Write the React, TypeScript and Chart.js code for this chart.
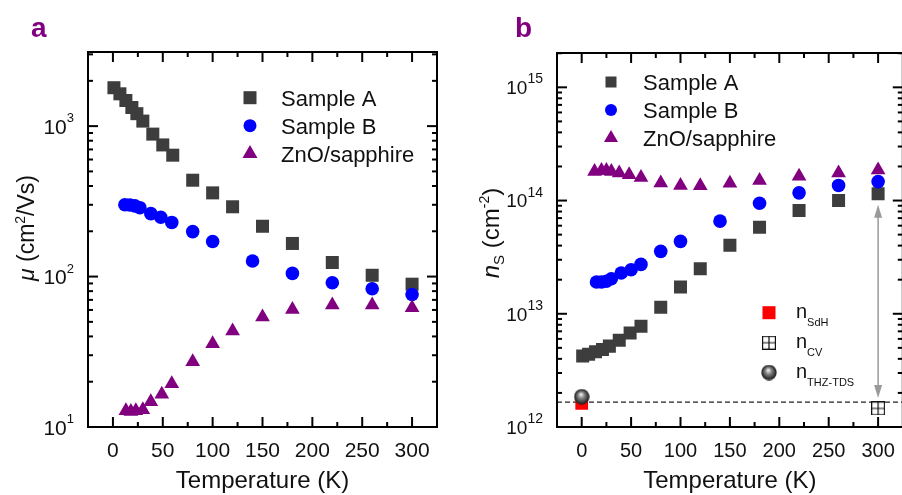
import React, { useEffect, useRef } from "react";
import { Chart, registerables } from "chart.js";

Chart.register(...registerables);

const FONT = "'Liberation Sans', Arial, Helvetica, sans-serif";
const PURPLE = "#800080";
const GREY = "#3d3d3d";
const BLUE = "#0000ff";
const RED = "#ff0000";

// ---------- Panel a : mobility (cm^2/Vs) ----------
const tempA_a = [1, 7, 13, 19, 24, 30, 40, 50, 60, 80, 100, 120, 150, 180, 220, 260, 300];
const muSampleA = [1800, 1640, 1480, 1330, 1210, 1080, 885, 750, 641, 437, 360, 291, 216, 166, 124, 102, 89];
const tempB_a = [12, 17, 22, 27, 38, 48, 59, 80, 100, 140, 180, 220, 260, 300];
const muSampleB = [300, 299, 295, 287, 262, 248, 229, 199, 171, 127, 105, 91, 83, 76];
const tempZnO_a = [13, 18, 23, 30, 38, 49, 59, 80, 100, 120, 150, 180, 220, 260, 300];
const muZnO = [12.8, 12.7, 12.8, 13.0, 14.7, 16.5, 19.4, 27.2, 35.8, 43.5, 53.8, 60.5, 64.7, 64.7, 62];

// ---------- Panel b : sheet density n_S (cm^-2) ----------
const tempA_b = [1, 7, 14, 21, 28, 38, 49, 60, 80, 100, 120, 150, 180, 220, 260, 300];
const nsSampleA = [4.23e12, 4.4e12, 4.61e12, 4.84e12, 5.18e12, 5.85e12, 6.78e12, 7.76e12, 1.14e13, 1.72e13, 2.5e13, 4.02e13, 5.82e13, 8.17e13, 1.0e14, 1.15e14];
const tempB_b = [15, 20, 25, 30, 40, 50, 60, 80, 100, 140, 180, 220, 260, 300];
const nsSampleB = [1.91e13, 1.91e13, 1.94e13, 2.04e13, 2.29e13, 2.45e13, 2.73e13, 3.56e13, 4.36e13, 6.58e13, 9.47e13, 1.17e14, 1.36e14, 1.47e14];
const tempZnO_b = [13, 20, 25, 30, 38, 48, 60, 80, 100, 120, 150, 180, 220, 260, 300];
const nsZnO = [1.81e14, 1.84e14, 1.84e14, 1.81e14, 1.75e14, 1.69e14, 1.6e14, 1.43e14, 1.36e14, 1.35e14, 1.42e14, 1.5e14, 1.64e14, 1.75e14, 1.86e14];
const tempSdH = [0];
const nsSdH = [1.62e12];
const tempCV = [300];
const nsCV = [1.46e12];
const tempTHz = [0];
const nsTHz = [1.85e12];
const refLineNs = 1.66e12;
const arrowT = 300;
const arrowTop = 9.2e13;
const arrowBottom = 1.8e12;

// ---------- Axes ----------
const xMajorTicks = [0, 50, 100, 150, 200, 250, 300];
const xMinorTicks = [25, 75, 125, 175, 225, 275];
const yDecadesA = [1, 2, 3];
const yDecadesB = [12, 13, 14, 15];
const legendLabels = ["Sample A", "Sample B", "ZnO/sapphire"];
const insetLabels = [
  ["n", "SdH"],
  ["n", "CV"],
  ["n", "THZ-TDS"],
];
const xTitle = "Temperature (K)";

type Part = { t: string; f: string; dy?: number };

function drawRich(ctx: CanvasRenderingContext2D, parts: Part[], x: number, y: number, align: "left" | "center" | "right") {
  let total = 0;
  const w = parts.map((p) => {
    ctx.font = p.f;
    const m = ctx.measureText(p.t).width;
    total += m;
    return m;
  });
  let cx = align === "left" ? x : align === "center" ? x - total / 2 : x - total;
  ctx.textAlign = "left";
  ctx.textBaseline = "alphabetic";
  parts.forEach((p, i) => {
    ctx.font = p.f;
    ctx.fillText(p.t, cx, y + (p.dy || 0));
    cx += w[i];
  });
}

function drawMarker(ctx: CanvasRenderingContext2D, kind: string, x: number, y: number, size: number, color: string) {
  ctx.fillStyle = color;
  if (kind === "rect") ctx.fillRect(x - size / 2, y - size / 2, size, size);
  else if (kind === "circle") {
    ctx.beginPath();
    ctx.arc(x, y, size / 2, 0, Math.PI * 2);
    ctx.fill();
  } else if (kind === "triangle") {
    const h = (size * Math.sqrt(3)) / 2;
    ctx.beginPath();
    ctx.moveTo(x, y - (h * 2) / 3);
    ctx.lineTo(x + size / 2, y + h / 3);
    ctx.lineTo(x - size / 2, y + h / 3);
    ctx.closePath();
    ctx.fill();
  }
}

function makeSphere(d: number) {
  const c = document.createElement("canvas");
  c.width = d;
  c.height = d;
  const g = c.getContext("2d")!;
  const r = d / 2;
  const grad = g.createRadialGradient(r * 0.9, r * 0.7, r * 0.05, r, r, r);
  grad.addColorStop(0, "#eeeeee");
  grad.addColorStop(0.35, "#8a8a8a");
  grad.addColorStop(0.8, "#333333");
  grad.addColorStop(1, "#1a1a1a");
  g.fillStyle = grad;
  g.beginPath();
  g.arc(r, r, r - 0.3, 0, Math.PI * 2);
  g.fill();
  return c;
}

function makeCV(d: number) {
  const c = document.createElement("canvas");
  c.width = d;
  c.height = d;
  const g = c.getContext("2d")!;
  g.fillStyle = "#fff";
  g.fillRect(0, 0, d, d);
  g.strokeStyle = "#111";
  g.lineWidth = 1.2;
  g.strokeRect(0.6, 0.6, d - 1.2, d - 1.2);
  g.beginPath();
  g.moveTo(d / 2, 0);
  g.lineTo(d / 2, d);
  g.moveTo(0, d / 2);
  g.lineTo(d, d / 2);
  g.stroke();
  return c;
}

interface PanelCfg {
  letter: string;
  letterX: number;
  yDecades: number[];
  tickFont: number;
  labelFont: number;
  supFont: number;
  yTitle: Part[];
  yTitleX: number;
  yTitleY: number;
  legendX: number;
  legendTextX: number;
  legendRows: number[];
  legendSizes: number[];
  before?: (chart: any) => void;
  after?: (chart: any) => void;
}

function makePlugin(cfg: PanelCfg) {
  return {
    id: "frame" + cfg.letter,
    beforeDatasetsDraw(chart: any) {
      const ctx: CanvasRenderingContext2D = chart.ctx;
      const a = chart.chartArea;
      const xs = chart.scales.x;
      const ys = chart.scales.y;
      ctx.save();
      if (cfg.before) cfg.before(chart);
      ctx.strokeStyle = "#000";
      ctx.lineWidth = 2;
      ctx.setLineDash([]);
      const seg = (x1: number, y1: number, x2: number, y2: number) => {
        ctx.beginPath();
        ctx.moveTo(x1, y1);
        ctx.lineTo(x2, y2);
        ctx.stroke();
      };
      // x ticks
      xMajorTicks.forEach((v) => {
        const px = xs.getPixelForValue(v);
        seg(px, a.bottom, px, a.bottom - 10);
        seg(px, a.top, px, a.top + 10);
      });
      xMinorTicks.forEach((v) => {
        const px = xs.getPixelForValue(v);
        seg(px, a.bottom, px, a.bottom - 5);
        seg(px, a.top, px, a.top + 5);
      });
      // y ticks (log)
      const e0 = Math.floor(Math.log10(ys.min));
      const e1 = Math.ceil(Math.log10(ys.max));
      for (let e = e0; e <= e1; e++) {
        for (let m = 1; m <= 9; m++) {
          const v = m * Math.pow(10, e);
          if (v < ys.min * 0.999 || v > ys.max * 1.001) continue;
          const py = ys.getPixelForValue(v);
          const len = m === 1 ? 10 : 5;
          seg(a.left, py, a.left + len, py);
          seg(a.right, py, a.right - len, py);
        }
      }
      ctx.strokeRect(a.left, a.top, a.right - a.left, a.bottom - a.top);
      // tick labels
      ctx.fillStyle = "#111";
      ctx.font = `${cfg.tickFont}px ${FONT}`;
      ctx.textAlign = "center";
      ctx.textBaseline = "alphabetic";
      xMajorTicks.forEach((v) => {
        ctx.fillText(String(v), xs.getPixelForValue(v), 457);
      });
      cfg.yDecades.forEach((e) => {
        const py = ys.getPixelForValue(Math.pow(10, e));
        drawRich(
          ctx,
          [
            { t: "10", f: `${cfg.labelFont}px ${FONT}`, dy: cfg.labelFont * 0.36 },
            { t: String(e), f: `${cfg.supFont}px ${FONT}`, dy: -4 },
          ],
          a.left - 14,
          py,
          "right"
        );
      });
      // x title
      ctx.font = `24px ${FONT}`;
      ctx.textAlign = "center";
      ctx.fillText(xTitle, (a.left + a.right) / 2, 488);
      // y title
      ctx.save();
      ctx.translate(cfg.yTitleX, cfg.yTitleY);
      ctx.rotate(-Math.PI / 2);
      drawRich(ctx, cfg.yTitle, 0, 0, "center");
      ctx.restore();
      // panel letter
      ctx.fillStyle = PURPLE;
      ctx.font = `bold 28px ${FONT}`;
      ctx.textAlign = "left";
      ctx.fillText(cfg.letter, cfg.letterX, 37);
      ctx.restore();
    },
    afterDatasetsDraw(chart: any) {
      const ctx: CanvasRenderingContext2D = chart.ctx;
      ctx.save();
      const kinds = ["rect", "circle", "triangle"];
      const colors = [GREY, BLUE, PURPLE];
      legendLabels.forEach((lab, i) => {
        const y = cfg.legendRows[i];
        drawMarker(ctx, kinds[i], cfg.legendX, y, cfg.legendSizes[i], colors[i]);
        ctx.fillStyle = "#111";
        ctx.font = `22px ${FONT}`;
        ctx.textAlign = "left";
        ctx.textBaseline = "alphabetic";
        ctx.fillText(lab, cfg.legendTextX, y + 7.8);
      });
      if (cfg.after) cfg.after(chart);
      ctx.restore();
    },
  };
}

function pts(xs: number[], ys: number[]) {
  return xs.map((x, i) => ({ x, y: ys[i] }));
}

function baseOptions(padding: any, yMin: number, yMax: number) {
  return {
    responsive: false,
    maintainAspectRatio: false,
    animation: false as const,
    devicePixelRatio: 1,
    events: [] as any[],
    layout: { padding },
    plugins: { legend: { display: false }, tooltip: { enabled: false } },
    scales: {
      x: { type: "linear" as const, display: false, min: -25, max: 325 },
      y: { type: "logarithmic" as const, display: false, min: yMin, max: yMax },
    },
  };
}

export default function App() {
  const refA = useRef<HTMLCanvasElement>(null);
  const refB = useRef<HTMLCanvasElement>(null);

  useEffect(() => {
    const sphereImg = makeSphere(16);
    const cvImg = makeCV(14);

    const pluginA = makePlugin({
      letter: "a",
      letterX: 31,
      yDecades: yDecadesA,
      tickFont: 21,
      labelFont: 21,
      supFont: 13,
      yTitle: [
        { t: "\u03bc", f: `italic 23px ${FONT}` },
        { t: " (cm", f: `23px ${FONT}` },
        { t: "2", f: `14px ${FONT}`, dy: -9 },
        { t: "/Vs)", f: `23px ${FONT}` },
      ],
      yTitleX: 34,
      yTitleY: 228,
      legendX: 250,
      legendTextX: 281,
      legendRows: [97.7, 125.7, 153.7],
      legendSizes: [13, 13, 15],
    });

    const pluginB = makePlugin({
      letter: "b",
      letterX: 65,
      yDecades: yDecadesB,
      tickFont: 20,
      labelFont: 19,
      supFont: 14,
      yTitle: [
        { t: "n", f: `italic 24px ${FONT}` },
        { t: "S", f: `15px ${FONT}`, dy: 5 },
        { t: " (cm", f: `24px ${FONT}` },
        { t: "-2", f: `14px ${FONT}`, dy: -10 },
        { t: ")", f: `24px ${FONT}` },
      ],
      yTitleX: 49,
      yTitleY: 233,
      legendX: 161,
      legendTextX: 193,
      legendRows: [82, 110, 138],
      legendSizes: [11, 12, 14],
      before: (chart: any) => {
        const ctx: CanvasRenderingContext2D = chart.ctx;
        const a = chart.chartArea;
        const xs = chart.scales.x;
        const ys = chart.scales.y;
        // dashed reference line
        const yr = ys.getPixelForValue(refLineNs);
        ctx.strokeStyle = "#222";
        ctx.lineWidth = 1.2;
        ctx.setLineDash([5, 3]);
        ctx.beginPath();
        ctx.moveTo(a.left, yr);
        ctx.lineTo(a.right, yr);
        ctx.stroke();
        ctx.setLineDash([]);
        // double arrow
        const ax = xs.getPixelForValue(arrowT);
        const y1 = ys.getPixelForValue(arrowTop);
        const y2 = ys.getPixelForValue(arrowBottom);
        ctx.strokeStyle = "#9a9a9a";
        ctx.fillStyle = "#9a9a9a";
        ctx.lineWidth = 1.5;
        ctx.beginPath();
        ctx.moveTo(ax, y1 + 6);
        ctx.lineTo(ax, y2 - 6);
        ctx.stroke();
        ctx.beginPath();
        ctx.moveTo(ax, y1);
        ctx.lineTo(ax - 4, y1 + 13);
        ctx.lineTo(ax + 4, y1 + 13);
        ctx.closePath();
        ctx.fill();
        ctx.beginPath();
        ctx.moveTo(ax, y2);
        ctx.lineTo(ax - 4, y2 - 13);
        ctx.lineTo(ax + 4, y2 - 13);
        ctx.closePath();
        ctx.fill();
      },
      after: (chart: any) => {
        const ctx: CanvasRenderingContext2D = chart.ctx;
        const mx = 319;
        const rows = [312.7, 342.7, 372.5];
        // markers
        drawMarker(ctx, "rect", mx, rows[0], 13, RED);
        ctx.drawImage(cvImg, mx - 7, rows[1] - 7);
        ctx.drawImage(sphereImg, mx - 8, rows[2] - 8);
        insetLabels.forEach((lab, i) => {
          ctx.fillStyle = "#111";
          drawRich(
            ctx,
            [
              { t: lab[0], f: `20px ${FONT}` },
              { t: lab[1], f: `11px ${FONT}`, dy: 8 },
            ],
            346,
            rows[i] + 5.5,
            "left"
          );
        });
      },
    });

    const chartA = new Chart(refA.current!, {
      type: "scatter",
      data: {
        datasets: [
          { label: legendLabels[0], data: pts(tempA_a, muSampleA), pointStyle: "rect", pointRadius: 9.2, backgroundColor: GREY, borderWidth: 0, order: 3 },
          { label: legendLabels[1], data: pts(tempB_a, muSampleB), pointStyle: "circle", pointRadius: 6.8, backgroundColor: BLUE, borderWidth: 0, order: 2 },
          { label: legendLabels[2], data: pts(tempZnO_a, muZnO), pointStyle: "triangle", pointRadius: 8.5, backgroundColor: PURPLE, borderWidth: 0, order: 1 },
        ],
      },
      options: baseOptions({ left: 88, top: 52, right: 14, bottom: 68 }, 10, 3110) as any,
      plugins: [pluginA],
    });

    const chartB = new Chart(refB.current!, {
      type: "scatter",
      data: {
        datasets: [
          { label: legendLabels[0], data: pts(tempA_b, nsSampleA), pointStyle: "rect", pointRadius: 9.2, backgroundColor: GREY, borderWidth: 0, order: 6 },
          { label: legendLabels[1], data: pts(tempB_b, nsSampleB), pointStyle: "circle", pointRadius: 6.8, backgroundColor: BLUE, borderWidth: 0, order: 5 },
          { label: legendLabels[2], data: pts(tempZnO_b, nsZnO), pointStyle: "triangle", pointRadius: 8.5, backgroundColor: PURPLE, borderWidth: 0, order: 4 },
          { label: "n_SdH", data: pts(tempSdH, nsSdH), pointStyle: "rect", pointRadius: 9, backgroundColor: RED, borderWidth: 0, order: 3 },
          { label: "n_CV", data: pts(tempCV, nsCV), pointStyle: cvImg as any, pointRadius: 7, order: 2 },
          { label: "n_THZ-TDS", data: pts(tempTHz, nsTHz), pointStyle: sphereImg as any, pointRadius: 8, order: 1 },
        ],
      },
      options: baseOptions({ left: 107, top: 53, right: 6, bottom: 68 }, 1e12, 2.01e15) as any,
      plugins: [pluginB],
    });

    return () => {
      chartA.destroy();
      chartB.destroy();
    };
  }, []);

  return (
    <div style={{ position: "absolute", left: 0, top: 0, width: 902, height: 495, overflow: "hidden", background: "#fff" }}>
      <canvas ref={refA} width={451} height={495} style={{ position: "absolute", left: 0, top: 0, width: 451, height: 495 }} />
      <canvas ref={refB} width={462} height={495} style={{ position: "absolute", left: 450, top: 0, width: 462, height: 495 }} />
    </div>
  );
}
